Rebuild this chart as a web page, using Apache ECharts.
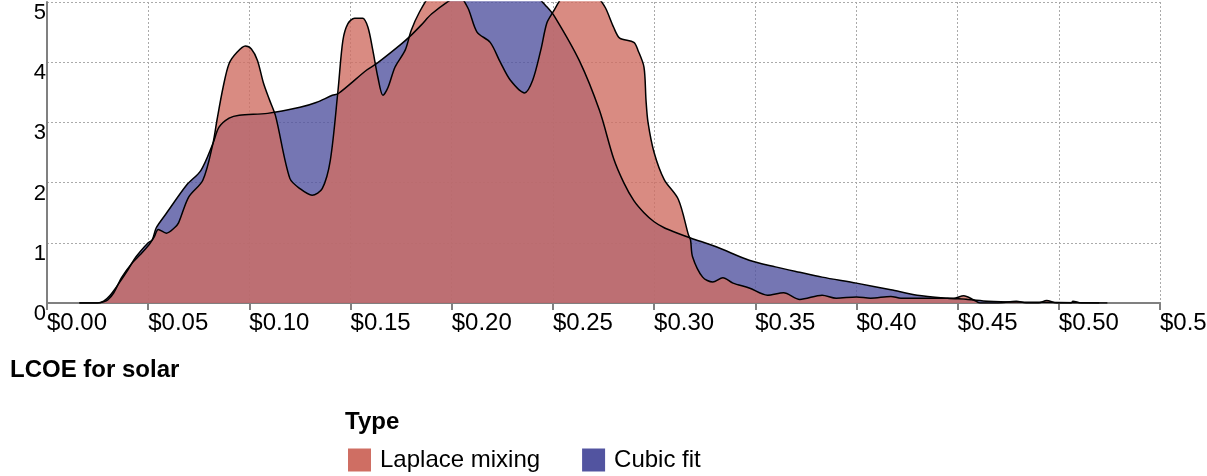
<!DOCTYPE html>
<html>
<head>
<meta charset="utf-8">
<script src="https://cdn.jsdelivr.net/npm/echarts@6/dist/echarts.min.js"></script>
<style>
  html, body { margin: 0; padding: 0; background: #fff; overflow: hidden; }
  #chart { width: 1207px; height: 476px; }
</style>
</head>
<body>
<div id="chart"></div>
<script>
  // density estimates of solar LCOE
  var laplaceX = [0.016, 0.025, 0.028, 0.030, 0.033, 0.037, 0.042, 0.046, 0.050, 0.053, 0.055, 0.059, 0.063, 0.065,
    0.070, 0.077, 0.082, 0.084, 0.087, 0.090, 0.094, 0.098, 0.101, 0.104, 0.107, 0.110, 0.113, 0.120, 0.125, 0.131,
    0.136, 0.140, 0.1438, 0.1462, 0.1487, 0.152, 0.156, 0.1586, 0.161, 0.1635, 0.166, 0.1685, 0.172, 0.177, 0.180,
    0.184, 0.190, 0.196, 0.202, 0.208, 0.2125, 0.219, 0.224, 0.229, 0.236, 0.240, 0.244, 0.247, 0.250, 0.255, 0.265,
    0.272, 0.276, 0.280, 0.283, 0.290, 0.292, 0.295, 0.296, 0.297, 0.300, 0.305, 0.312, 0.317, 0.318, 0.319, 0.324,
    0.329, 0.334, 0.339, 0.347, 0.356, 0.364, 0.372, 0.383, 0.390, 0.400, 0.407, 0.417, 0.422, 0.433, 0.448, 0.453,
    0.458, 0.461, 0.470, 0.479, 0.484, 0.490, 0.494, 0.499, 0.506, 0.507, 0.511, 0.524];
  var laplaceY = [0, 0, 0.02, 0.05, 0.17, 0.43, 0.66, 0.8, 0.95, 1.1, 1.22, 1.16, 1.25, 1.33,
    1.76, 2.04, 2.65, 3.04, 3.58, 3.98, 4.17, 4.27, 4.22, 4.03, 3.65, 3.37, 3.1, 2.07, 1.9, 1.79,
    1.9, 2.37, 3.53, 4.36, 4.64, 4.73, 4.73, 4.58, 4.2, 3.75, 3.45, 3.58, 3.92, 4.2, 4.53,
    4.83, 5.15, 5.3, 5.2, 4.9, 4.5, 4.33, 4.0, 3.7, 3.49, 3.7, 4.2, 4.65, 4.83, 5.1, 5.4,
    5.1, 4.9, 4.58, 4.4, 4.33, 4.2, 3.92, 3.37, 3.0, 2.5, 2.05, 1.72, 1.13, 1.05, 0.77, 0.43,
    0.35, 0.42, 0.33, 0.25, 0.13, 0.17, 0.06, 0.13, 0.08, 0.1, 0.08, 0.11, 0.08, 0.08, 0.08, 0.12,
    0.05, 0, 0, 0.03, 0, 0, 0.04, 0, 0, 0.03, 0, 0];

  var cubicX = [0.016, 0.025, 0.028, 0.031, 0.035, 0.040, 0.043, 0.046, 0.050, 0.052, 0.054, 0.059, 0.069, 0.076,
    0.082, 0.085, 0.090, 0.095, 0.109, 0.125, 0.133, 0.141, 0.144, 0.158, 0.163, 0.175, 0.180, 0.185, 0.190, 0.200,
    0.210, 0.220, 0.230, 0.240, 0.247, 0.251, 0.263, 0.273, 0.280, 0.285, 0.290, 0.295, 0.300, 0.305, 0.310, 0.318,
    0.331, 0.347, 0.360, 0.372, 0.383, 0.400, 0.417, 0.430, 0.445, 0.455, 0.465, 0.480, 0.500, 0.520];
  var cubicY = [0, 0, 0.03, 0.12, 0.3, 0.55, 0.72, 0.85, 1.0, 1.05, 1.25, 1.49, 1.96, 2.2,
    2.65, 2.92, 3.07, 3.12, 3.15, 3.25, 3.33, 3.45, 3.48, 3.87, 3.98, 4.3, 4.45, 4.62, 4.8, 5.05,
    5.25, 5.35, 5.3, 5.15, 4.92, 4.75, 4.03, 3.2, 2.4, 2.0, 1.7, 1.5, 1.35, 1.25, 1.18, 1.08,
    0.93, 0.71, 0.6, 0.51, 0.43, 0.33, 0.22, 0.13, 0.08, 0.06, 0.03, 0.015, 0.01, 0];

  var seriesNames = ['Laplace mixing', 'Cubic fit'];
  var seriesColors = ['#CF6E63', '#5254A0'];

  function pairs(xs, ys) {
    var out = [];
    for (var i = 0; i < xs.length; i++) {
      out.push([xs[i], ys[i]]);
    }
    return out;
  }

  function densitySeries(name, color, xs, ys) {
    return {
      name: name,
      type: 'line',
      data: pairs(xs, ys),
      smooth: 0.3,
      showSymbol: false,
      symbol: 'none',
      clip: true,
      itemStyle: { color: color },
      lineStyle: { color: '#000', width: 1.5 },
      areaStyle: { color: color, opacity: 0.8 },
      emphasis: { disabled: true }
    };
  }

  var chart = echarts.init(document.getElementById('chart'), null, { width: 1207, height: 476 });
  var font = 'Liberation Sans, Arial, sans-serif';

  var option = {
    animation: false,
    textStyle: { fontFamily: font },
    title: [
      {
        text: 'LCOE for solar',
        left: 10, top: 358, padding: 0,
        textStyle: { fontFamily: font, fontSize: 24, fontWeight: 'bold', color: '#000' }
      },
      {
        text: 'Type',
        left: 345, top: 410, padding: 0,
        textStyle: { fontFamily: font, fontSize: 24, fontWeight: 'bold', color: '#000' }
      }
    ],
    legend: {
      left: 348, top: 448, padding: 0,
      icon: 'rect',
      itemWidth: 23, itemHeight: 23, itemGap: 42,
      data: [
        { name: seriesNames[0], itemStyle: { color: seriesColors[0], opacity: 1 } },
        { name: seriesNames[1], itemStyle: { color: seriesColors[1], opacity: 1 } }
      ],
      textStyle: { fontFamily: font, fontSize: 24, color: '#000', padding: [0, 0, 0, 4] }
    },
    grid: { left: 47, right: 47, top: 2, bottom: 173, containLabel: false, outerBoundsMode: 'none' },
    xAxis: {
      type: 'value',
      min: 0, max: 0.55, interval: 0.05,
      axisLine: { show: true, lineStyle: { color: '#808080', width: 2 } },
      axisTick: { show: true, length: 7, lineStyle: { color: '#808080', width: 2 } },
      axisLabel: {
        align: 'left', margin: 8, showMaxLabel: true,
        fontFamily: font, fontSize: 24, color: '#000',
        formatter: function (v) { return '$' + v.toFixed(2); }
      },
      splitLine: { show: true, lineStyle: { color: '#aaa', type: [2, 2], width: 1 } }
    },
    yAxis: {
      type: 'value',
      min: 0, max: 5, interval: 1,
      axisLine: { show: true, lineStyle: { color: '#808080', width: 2 } },
      axisTick: { show: false },
      axisLabel: {
        verticalAlign: 'top', margin: 1,
        fontFamily: font, fontSize: 22, color: '#000'
      },
      splitLine: { show: true, lineStyle: { color: '#aaa', type: [2, 2], width: 1 } }
    },
    series: [
      densitySeries(seriesNames[1], seriesColors[1], cubicX, cubicY),
      densitySeries(seriesNames[0], seriesColors[0], laplaceX, laplaceY)
    ]
  };

  chart.setOption(option);
</script>
</body>
</html>
